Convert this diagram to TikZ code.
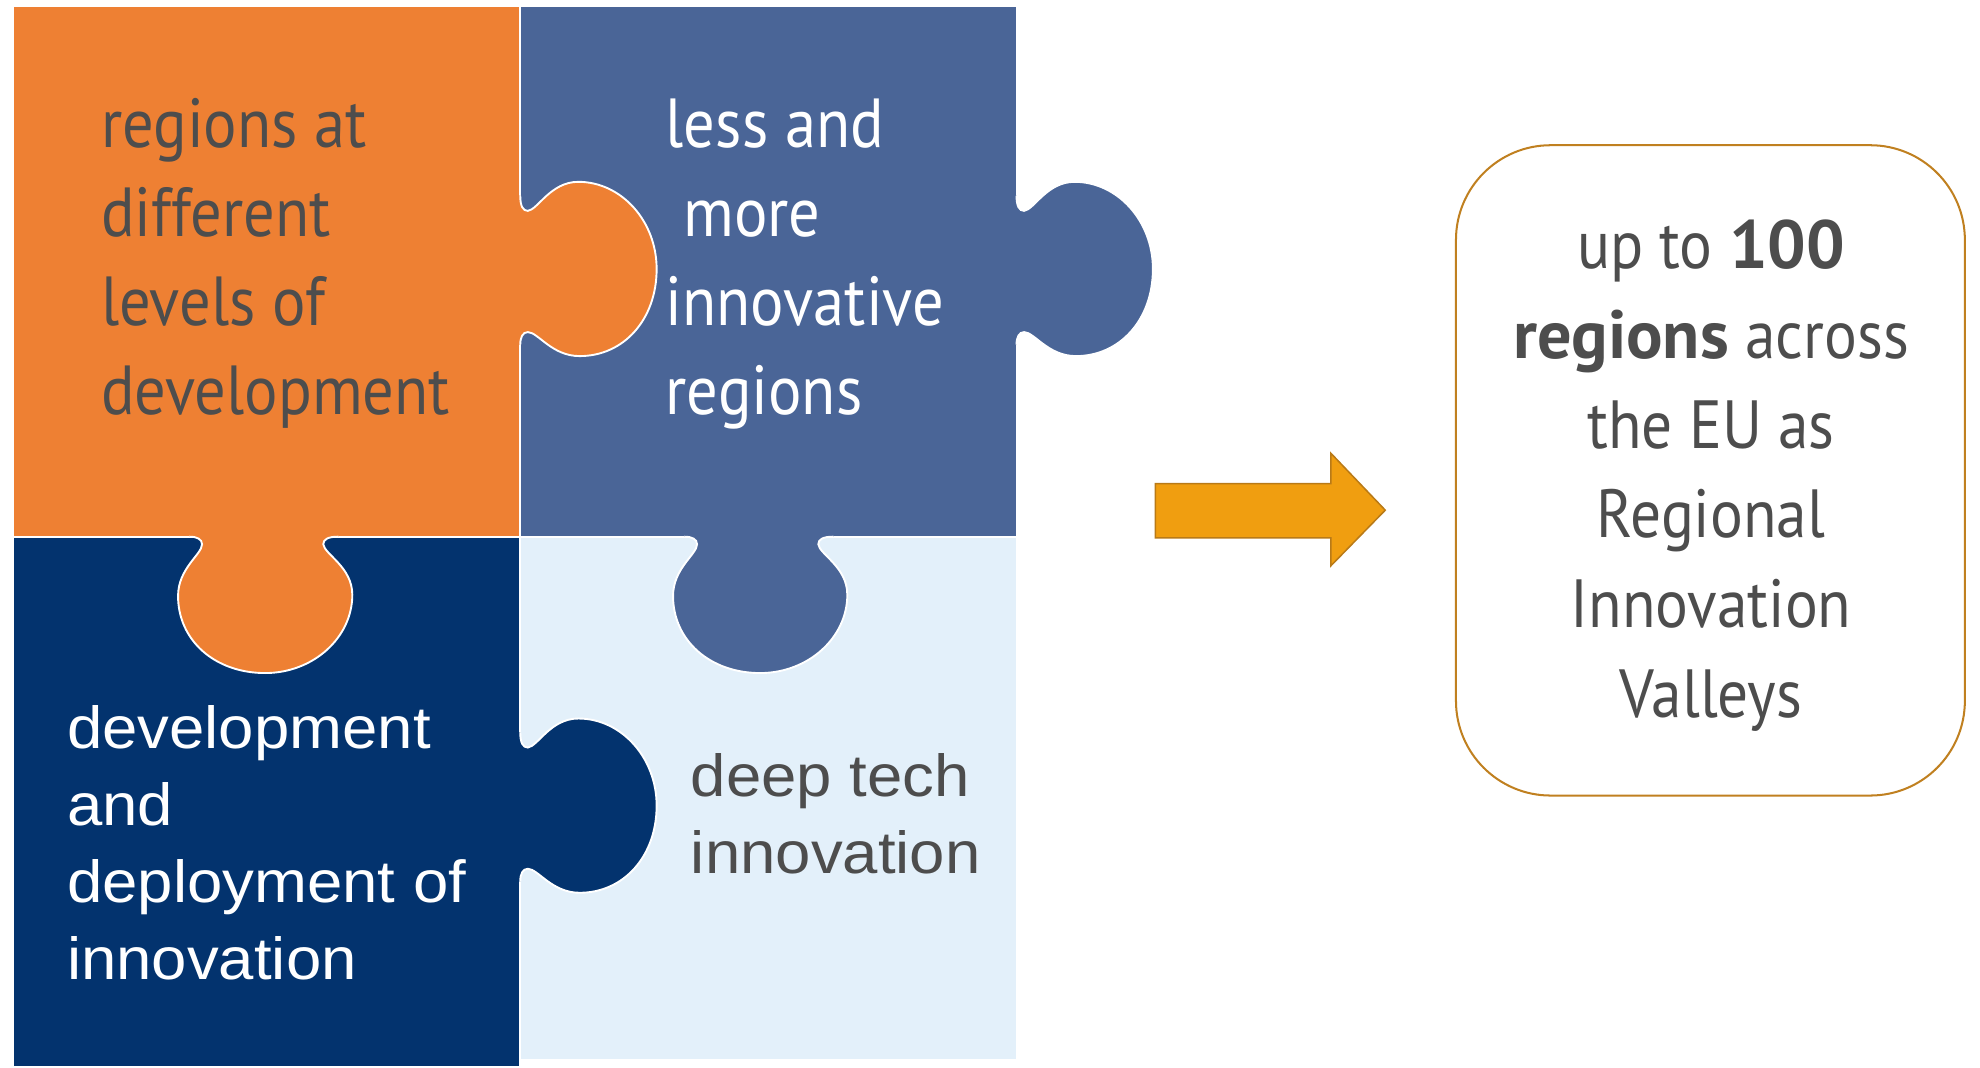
\documentclass[tikz,border=0pt]{standalone}
\usepackage{fontspec}
\newfontfamily\ecfont{PT Sans}[FakeStretch=0.9, BoldFeatures={FakeStretch=1.0}]
\newfontfamily\arialfont{Liberation Sans}[FakeStretch=1.07]
\definecolor{pzorange}{HTML}{EE8033}
\definecolor{pzblue}{HTML}{4A6597}
\definecolor{pznavy}{HTML}{03336E}
\definecolor{pzlight}{HTML}{E3F0FA}
\definecolor{txtgray}{HTML}{4D4D4D}
\definecolor{arrowfill}{HTML}{F09E10}
\definecolor{arrowdraw}{HTML}{B97A17}
\definecolor{boxdraw}{HTML}{C08020}
\tikzset{
  piece/.style={draw=white, line width=1.5pt},
  pics/pztab/.style={code={
    \fill (-3,-58) -- (0,-58) .. controls (0,-50) and (2,-46) .. (6,-46)
      .. controls (14,-47) and (24,-69) .. (46,-69)
      .. controls (80,-69) and (108,-38) .. (108,0)
      .. controls (108,40) and (82,69) .. (47,69)
      .. controls (25,69) and (14,50) .. (6,50)
      .. controls (2,50) and (0,54) .. (0,60) -- (-3,60) -- cycle;
    \draw[white, line width=1.5pt] (0,-58) .. controls (0,-50) and (2,-46) .. (6,-46)
      .. controls (14,-47) and (24,-69) .. (46,-69)
      .. controls (80,-69) and (108,-38) .. (108,0)
      .. controls (108,40) and (82,69) .. (47,69)
      .. controls (25,69) and (14,50) .. (6,50)
      .. controls (2,50) and (0,54) .. (0,60);
  }},
  ectext/.style={font=\ecfont\fontsize{55}{70.3}\selectfont, align=left, anchor=base west, inner sep=0pt},
  artext/.style={font=\arialfont\fontsize{47}{61}\selectfont, align=left, anchor=base west, inner sep=0pt},
  resultbox/.style={draw=boxdraw, line width=1.6pt, rounded corners=75pt, minimum width=403pt, minimum height=515pt, inner sep=0pt},
  boxtext/.style={font=\ecfont\fontsize{54}{71}\selectfont, text=txtgray, align=center, anchor=base, inner sep=0pt}
}
\begin{document}
\begin{tikzpicture}[x=1pt, y=-1pt]
\useasboundingbox (0,0) rectangle (1568,845);
% pieces
\filldraw[piece, fill=pzorange] (10,5) rectangle (412,425);
\filldraw[piece, fill=pzblue] (412,5) rectangle (805,425);
\filldraw[piece, fill=pznavy] (10,425) rectangle (412,845);
\filldraw[piece, fill=pzlight] (412,425) rectangle (805,839);
% tabs
\pic[fill=pzorange] at (412,213) {pztab};
\pic[fill=pzorange, rotate=-90] at (210,425) {pztab};
\pic[fill=pzblue] at (805,213) {pztab};
\pic[fill=pzblue, rotate=-90] at (602,425) {pztab};
\pic[fill=pznavy] at (412,638) {pztab};
% texts (anchored at the baseline of the last line)
\node[ectext, text=txtgray] (t1) at (80,328) {regions at\\different\\levels of\\development};
\node[ectext, text=white] (t2) at (527,328) {less and\\\hspace*{14pt}more\\innovative\\regions};
\node[artext, text=white] (t3) at (53,776) {development\\and\\deployment of\\innovation};
\node[artext, text=txtgray] (t4) at (547,692) {deep tech\\innovation};
% arrow
\draw[fill=arrowfill, draw=arrowdraw, line width=1.2pt] (915,383) -- (1054,383) -- (1054,359) -- (1097,404) -- (1054,448) -- (1054,426) -- (915,426) -- cycle;
% result box
\node[resultbox] (box) at (1354.5,372.5) {};
\node[boxtext] (boxt) at (1355,568) {up to \textbf{100}\\\textbf{regions} across\\the EU as\\Regional\\Innovation\\Valleys};
\end{tikzpicture}
\end{document}
